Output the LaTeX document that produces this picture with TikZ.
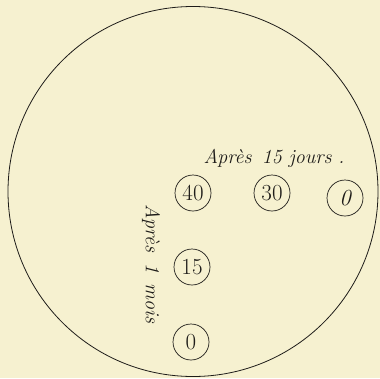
\documentclass[tikz,border=0pt]{standalone}
\definecolor{paper}{RGB}{246,241,208}
\definecolor{ink}{RGB}{30,28,25}
\begin{document}
\begin{tikzpicture}[x=1pt,y=1pt,
  disc/.style={draw=ink,line width=0.7pt,circle,minimum size=36pt,inner sep=0pt,font=\fontsize{23}{23}\selectfont,text=ink},
  lab/.style={font=\fontsize{20}{20}\selectfont\itshape,text=ink}]
\fill[paper] (0,0) rectangle (380,-378);
\useasboundingbox (0,0) rectangle (380,-378);
\node[draw=ink,line width=0.8pt,circle,minimum size=370pt,inner sep=0pt] (big) at (193,-191.5) {};
\node[disc] (n40) at (193,-193) {40};
\node[disc] (n30) at (272,-193) {30};
\node[disc] (n0a) at (345,-198) {\itshape 0};
\node[disc] (n15) at (192,-267) {15};
\node[disc] (n0b) at (191,-342) {0};
\node[lab] (t15) at (274,-158) {Apr\`es\ \,15 jours\,\,.};
\node[lab,rotate=-90] (t1) at (151,-264) {Apr\`es\ \,1\ \,mois};
\end{tikzpicture}
\end{document}
